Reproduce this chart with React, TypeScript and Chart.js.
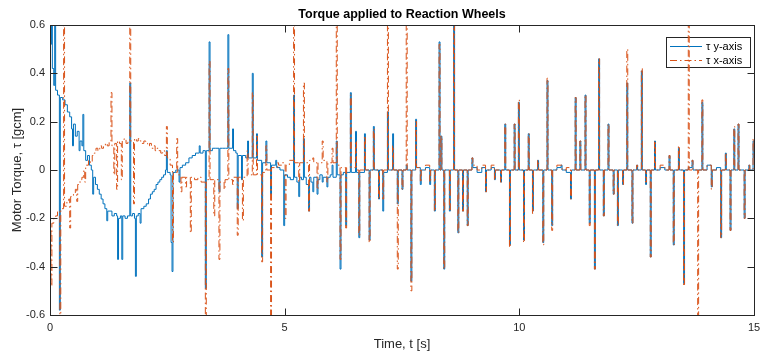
import { useEffect, useRef } from "react";
import { Chart, registerables } from "chart.js";

Chart.register(...registerables);

const chartTitle = "Torque applied to Reaction Wheels";
const xAxisTitle = "Time, t [s]";
const yAxisTitle = "Motor Torque, τ [gcm]";
const seriesLabels = ["τ y-axis", "τ x-axis"];
const timeTicks = [0, 5, 10, 15];
const torqueTicks = [-0.6, -0.4, -0.2, 0, 0.2, 0.4, 0.6];

// τ y-axis readings: [time s, torque gcm]
const tauY: [number, number][] = [
  [0.00, 0.52], [0.03, 0.70], [0.05, 0.42], [0.08, 0.35], [0.10, 0.66], [0.12, 0.33], [0.16, 0.31], [0.20, -0.58], [0.22, 0.30], [0.27, 0.29],
  [0.32, 0.27], [0.37, 0.24], [0.42, 0.22], [0.46, 0.17], [0.48, 0.10], [0.50, 0.19], [0.54, 0.14], [0.58, 0.16], [0.62, 0.08], [0.64, 0.12],
  [0.68, 0.10], [0.70, 0.23], [0.72, 0.08], [0.76, 0.04], [0.80, 0.06], [0.84, 0.02], [0.88, 0.00], [0.91, -0.10], [0.93, -0.03], [0.97, -0.06],
  [1.01, -0.08], [1.05, -0.10], [1.09, -0.12], [1.13, -0.14], [1.17, -0.16], [1.21, -0.21], [1.23, -0.17], [1.28, -0.17], [1.32, -0.19], [1.37, -0.18],
  [1.42, -0.19], [1.44, -0.37], [1.46, -0.20], [1.50, -0.19], [1.53, -0.37], [1.55, -0.19], [1.60, -0.20], [1.65, -0.19], [1.70, 0.36], [1.72, -0.19],
  [1.76, -0.18], [1.80, -0.20], [1.82, -0.44], [1.84, -0.19], [1.88, -0.18], [1.92, -0.22], [1.94, -0.16], [2.00, -0.15], [2.05, -0.14], [2.10, -0.12],
  [2.14, -0.10], [2.18, -0.09], [2.22, -0.08], [2.26, -0.06], [2.30, -0.05], [2.34, -0.04], [2.38, -0.03], [2.42, -0.02], [2.46, 0.00], [2.48, 0.08],
  [2.50, -0.01], [2.56, -0.02], [2.58, -0.30], [2.60, -0.42], [2.62, -0.01], [2.68, 0.00], [2.75, -0.05], [2.77, 0.01], [2.82, 0.02], [2.89, 0.03],
  [2.96, 0.05], [3.03, 0.06], [3.10, 0.07], [3.18, 0.10], [3.20, 0.07], [3.26, 0.08], [3.31, -0.49], [3.33, 0.08], [3.39, 0.53], [3.41, 0.08],
  [3.46, 0.09], [3.52, 0.09], [3.60, -0.09], [3.62, 0.09], [3.68, 0.09], [3.74, 0.09], [3.79, 0.56], [3.81, 0.09], [3.89, 0.17], [3.91, 0.08],
  [3.96, 0.07], [3.99, -0.16], [4.01, 0.06], [4.08, -0.04], [4.10, 0.06], [4.17, 0.05], [4.21, 0.12], [4.23, 0.05], [4.31, 0.40], [4.33, 0.05],
  [4.40, 0.15], [4.42, 0.04], [4.51, -0.36], [4.53, 0.03], [4.60, 0.12], [4.62, 0.03], [4.70, -0.10], [4.72, 0.02], [4.81, 0.04], [4.83, 0.01],
  [4.90, 0.00], [4.98, -0.23], [5.00, -0.02],
  [5.06, -0.03], [5.12, -0.04], [5.19, 0.31], [5.21, -0.03], [5.26, -0.05], [5.30, -0.11], [5.32, -0.03], [5.36, -0.04], [5.40, 0.13], [5.42, -0.03],
  [5.46, -0.06], [5.51, -0.17], [5.53, -0.03], [5.56, -0.05], [5.60, -0.09], [5.62, -0.03], [5.69, -0.10], [5.71, -0.04], [5.75, -0.02], [5.80, -0.05],
  [5.82, -0.03], [5.90, -0.07], [5.92, -0.03], [5.97, -0.02], [6.01, 0.02], [6.03, -0.03], [6.10, 0.12], [6.12, -0.02], [6.18, -0.41], [6.20, -0.02],
  [6.25, -0.01], [6.30, -0.23], [6.32, -0.01], [6.40, 0.32], [6.42, -0.01], [6.51, 0.16], [6.53, -0.01], [6.58, -0.28], [6.60, -0.01], [6.70, 0.15],
  [6.72, 0.00], [6.80, -0.29], [6.82, 0.00], [6.89, 0.18], [6.91, 0.00], [7.00, -0.12], [7.02, 0.00], [7.09, -0.17], [7.11, -0.01], [7.19, 0.24],
  [7.21, 0.00], [7.30, 0.15], [7.32, 0.00], [7.40, -0.14], [7.42, 0.00], [7.50, -0.08], [7.52, 0.00],
  [7.59, 0.02], [7.61, 0.00], [7.69, -0.46], [7.71, 0.00], [7.79, 0.21], [7.81, 0.01], [7.89, -0.06], [7.91, 0.00], [8.00, 0.01], [8.09, -0.06],
  [8.11, 0.00], [8.19, -0.17], [8.21, 0.00], [8.29, 0.53], [8.31, 0.00], [8.33, 0.14], [8.35, 0.00], [8.39, -0.41], [8.41, 0.00], [8.51, -0.17],
  [8.53, 0.00], [8.60, 0.66], [8.62, 0.00], [8.69, -0.26], [8.71, 0.00], [8.79, -0.17], [8.81, 0.00], [8.89, -0.23], [8.91, 0.00], [8.99, 0.05],
  [9.01, 0.01], [9.10, -0.01], [9.20, 0.01], [9.28, -0.09], [9.30, 0.00], [9.40, 0.01], [9.47, -0.04], [9.49, 0.00], [9.60, -0.05], [9.62, 0.00],
  [9.69, 0.19], [9.71, 0.00], [9.79, -0.31], [9.81, 0.00], [9.89, 0.19], [9.91, 0.00], [9.98, 0.28], [10.00, 0.00],
  [10.09, -0.29], [10.11, 0.00], [10.19, 0.15], [10.21, 0.00], [10.28, -0.17], [10.30, 0.00], [10.39, 0.04], [10.41, 0.00], [10.50, -0.30], [10.52, 0.00],
  [10.59, 0.37], [10.61, 0.00], [10.69, -0.23], [10.71, 0.00], [10.80, 0.01], [10.89, 0.02], [10.91, 0.00], [11.00, -0.01], [11.09, -0.12], [11.11, 0.00],
  [11.19, 0.30], [11.21, 0.00], [11.29, 0.12], [11.31, 0.00], [11.40, 0.31], [11.42, 0.00], [11.49, -0.22], [11.51, 0.00], [11.60, -0.41], [11.62, 0.00],
  [11.69, 0.46], [11.71, 0.00], [11.79, -0.19], [11.81, 0.00], [11.89, 0.19], [11.91, 0.00], [12.00, -0.10], [12.02, 0.00], [12.09, -0.23], [12.11, 0.00],
  [12.20, -0.06], [12.22, 0.00], [12.29, 0.36], [12.31, 0.00], [12.40, -0.22], [12.42, 0.00], [12.50, 0.02], [12.52, 0.00],
  [12.60, 0.41], [12.62, 0.00], [12.69, -0.06], [12.71, 0.00], [12.79, -0.36], [12.81, 0.00], [12.88, 0.12], [12.90, 0.00], [13.00, 0.01], [13.10, 0.00],
  [13.19, 0.06], [13.21, 0.00], [13.28, -0.31], [13.30, 0.00], [13.39, 0.09], [13.41, 0.00], [13.50, -0.47], [13.52, 0.00], [13.60, 0.01], [13.68, 0.04],
  [13.70, 0.00], [13.80, 0.00], [13.89, 0.28], [13.91, 0.00], [14.00, 0.02], [14.09, -0.07], [14.11, 0.00], [14.20, 0.01], [14.29, -0.28], [14.31, 0.00],
  [14.39, 0.07], [14.41, 0.00], [14.49, -0.25], [14.51, 0.00], [14.57, 0.17], [14.59, 0.00], [14.66, 0.19], [14.68, 0.00], [14.79, -0.20], [14.81, 0.00],
  [14.89, 0.02], [14.91, 0.00], [14.98, 0.12], [15.00, 0.05],
];

// τ x-axis readings: [time s, torque gcm]
const tauX: [number, number][] = [
  [0.00, -0.25], [0.02, -0.48], [0.04, -0.22], [0.08, -0.20], [0.12, -0.19], [0.16, -0.17], [0.21, -0.62], [0.23, -0.16], [0.29, 0.66], [0.31, -0.15],
  [0.36, -0.13], [0.40, -0.12], [0.42, -0.24], [0.44, -0.11], [0.50, -0.10], [0.54, -0.08], [0.57, -0.13], [0.59, -0.06], [0.64, -0.04], [0.68, -0.03],
  [0.72, 0.00], [0.74, -0.05], [0.76, 0.02], [0.82, 0.04], [0.86, 0.03], [0.90, 0.06], [0.94, 0.07], [0.98, 0.09], [1.02, 0.08], [1.06, 0.10],
  [1.10, 0.09], [1.14, 0.10], [1.18, 0.11], [1.22, 0.10], [1.26, 0.12], [1.30, 0.32], [1.32, 0.10], [1.36, -0.02], [1.38, 0.11], [1.42, -0.08],
  [1.44, 0.12], [1.48, 0.11], [1.52, -0.04], [1.54, 0.12], [1.58, 0.13], [1.62, 0.11], [1.66, 0.12], [1.70, 0.66], [1.72, 0.12], [1.78, -0.14],
  [1.80, 0.13], [1.84, 0.12], [1.88, 0.13], [1.92, 0.12], [1.96, 0.11], [2.00, 0.12], [2.04, 0.11], [2.08, 0.10], [2.12, 0.11], [2.16, 0.09],
  [2.20, 0.10], [2.24, 0.08], [2.28, 0.09], [2.32, 0.08], [2.36, 0.07], [2.40, 0.08], [2.44, 0.06], [2.48, 0.18], [2.50, 0.05],
  [2.56, 0.02], [2.61, -0.30], [2.63, -0.01], [2.70, 0.13], [2.72, -0.02], [2.79, -0.09], [2.81, -0.03], [2.89, -0.07], [2.91, -0.03], [2.99, -0.26],
  [3.01, -0.03], [3.08, -0.04], [3.15, -0.03], [3.22, -0.05], [3.31, -0.65], [3.33, -0.04], [3.39, 0.45], [3.41, -0.04], [3.49, -0.19], [3.51, -0.04],
  [3.60, -0.37], [3.62, -0.05], [3.71, -0.08], [3.73, -0.04], [3.79, 0.42], [3.81, -0.04], [3.89, -0.06], [3.91, -0.03], [3.99, -0.27], [4.01, -0.03],
  [4.10, -0.21], [4.12, -0.03], [4.20, 0.08], [4.22, -0.02], [4.31, 0.32], [4.33, -0.02], [4.40, 0.14], [4.42, -0.02], [4.51, -0.38], [4.53, -0.01],
  [4.60, 0.10], [4.62, 0.00], [4.70, -0.65], [4.72, 0.01], [4.85, 0.03], [4.87, 0.02], [4.94, 0.03], [5.01, -0.20], [5.03, 0.02],
  [5.10, 0.04], [5.19, 0.66], [5.21, 0.03], [5.30, -0.05], [5.32, 0.03], [5.40, 0.36], [5.42, 0.03], [5.51, -0.17], [5.53, 0.04], [5.60, 0.05],
  [5.62, 0.03], [5.69, -0.08], [5.71, 0.03], [5.80, 0.12], [5.82, 0.04], [5.90, -0.05], [5.92, 0.03], [6.01, 0.09], [6.03, 0.03], [6.10, 0.66],
  [6.12, 0.02], [6.18, -0.37], [6.20, 0.01], [6.30, -0.24], [6.32, 0.01], [6.40, 0.31], [6.42, 0.01], [6.51, 0.12], [6.53, 0.00], [6.58, -0.27],
  [6.60, 0.00], [6.70, 0.14], [6.72, 0.00], [6.80, -0.30], [6.82, 0.00], [6.89, 0.17], [6.91, 0.00], [7.00, -0.12], [7.02, 0.00], [7.09, -0.12],
  [7.11, 0.00], [7.19, 0.66], [7.21, 0.00], [7.30, 0.10], [7.32, 0.00], [7.40, -0.41], [7.42, 0.00], [7.50, -0.08], [7.52, 0.00],
  [7.59, 0.66], [7.61, 0.00], [7.69, -0.50], [7.71, 0.00], [7.79, 0.20], [7.81, 0.01], [7.89, -0.05], [7.91, 0.00], [8.00, 0.02], [8.09, -0.05],
  [8.11, 0.00], [8.19, -0.17], [8.21, 0.00], [8.29, 0.52], [8.31, 0.00], [8.33, 0.14], [8.35, 0.00], [8.39, -0.41], [8.41, 0.00], [8.51, -0.17],
  [8.53, 0.00], [8.60, 0.66], [8.62, 0.00], [8.69, -0.26], [8.71, 0.00], [8.79, -0.17], [8.81, 0.00], [8.89, -0.23], [8.91, 0.00], [8.99, 0.05],
  [9.01, 0.02], [9.10, 0.00], [9.20, 0.02], [9.28, -0.09], [9.30, 0.00], [9.40, 0.02], [9.47, -0.04], [9.49, 0.00], [9.60, -0.05], [9.62, 0.00],
  [9.69, 0.19], [9.71, 0.00], [9.79, -0.32], [9.81, 0.00], [9.89, 0.19], [9.91, 0.00], [9.98, 0.29], [10.00, 0.00],
  [10.09, -0.30], [10.11, 0.00], [10.19, 0.15], [10.21, 0.00], [10.28, -0.18], [10.30, 0.00], [10.39, 0.04], [10.41, 0.00], [10.50, -0.31], [10.52, 0.00],
  [10.59, 0.38], [10.61, 0.00], [10.69, -0.25], [10.71, 0.00], [10.80, 0.02], [10.89, 0.02], [10.91, 0.00], [11.00, 0.01], [11.09, -0.12], [11.11, 0.00],
  [11.19, 0.30], [11.21, 0.00], [11.29, 0.12], [11.31, 0.00], [11.40, 0.31], [11.42, 0.00], [11.49, -0.23], [11.51, 0.00], [11.60, -0.41], [11.62, 0.00],
  [11.69, 0.46], [11.71, 0.00], [11.79, -0.19], [11.81, 0.00], [11.89, 0.19], [11.91, 0.00], [12.00, -0.10], [12.02, 0.00], [12.09, -0.23], [12.11, 0.00],
  [12.20, -0.06], [12.22, 0.00], [12.29, 0.50], [12.31, 0.00], [12.40, -0.22], [12.42, 0.00], [12.50, 0.02], [12.52, 0.00],
  [12.60, 0.42], [12.62, 0.00], [12.69, -0.05], [12.71, 0.00], [12.79, -0.36], [12.81, 0.00], [12.88, 0.12], [12.90, 0.00], [13.00, 0.02], [13.10, 0.00],
  [13.19, 0.06], [13.21, 0.00], [13.28, -0.31], [13.30, 0.00], [13.39, 0.10], [13.41, 0.00], [13.50, -0.48], [13.52, 0.00], [13.60, 0.66], [13.62, 0.00],
  [13.68, 0.04], [13.70, 0.00], [13.80, -0.66], [13.82, 0.00], [13.89, 0.29], [13.91, 0.00], [14.00, 0.02], [14.09, -0.08], [14.11, 0.00], [14.29, -0.28],
  [14.31, 0.00], [14.39, 0.07], [14.41, 0.00], [14.49, -0.25], [14.51, 0.00], [14.57, 0.18], [14.59, 0.00], [14.66, 0.19], [14.68, 0.00], [14.79, -0.20],
  [14.81, 0.00], [14.89, 0.02], [14.91, 0.00], [14.98, 0.13], [15.00, 0.05],
];

const BLUE = "#0072BD";
const ORANGE = "#D95319";
const AXIS = "#262626";
const FONT = "'Liberation Sans', Arial, Helvetica, sans-serif";
const DASH = [7, 3, 1.5, 3];

const decorPlugin = {
  id: "decor",
  beforeDatasetsDraw(chart: any) {
    const { ctx } = chart;
    ctx.save();
    ctx.fillStyle = "#ffffff";
    ctx.fillRect(666, 37, 85, 30);
    ctx.strokeStyle = AXIS;
    ctx.lineWidth = 1;
    ctx.strokeRect(666.5, 37.5, 84, 30);
    ctx.strokeStyle = BLUE;
    ctx.setLineDash([]);
    ctx.beginPath();
    ctx.moveTo(670, 46.5);
    ctx.lineTo(702, 46.5);
    ctx.stroke();
    ctx.strokeStyle = ORANGE;
    ctx.setLineDash(DASH);
    ctx.beginPath();
    ctx.moveTo(670, 60.5);
    ctx.lineTo(702, 60.5);
    ctx.stroke();
    ctx.setLineDash([]);
    ctx.fillStyle = "#000000";
    ctx.font = `11px ${FONT}`;
    ctx.textAlign = "left";
    ctx.textBaseline = "middle";
    ctx.fillText(seriesLabels[0], 706, 46.5);
    ctx.fillText(seriesLabels[1], 706, 60.5);
    ctx.restore();
  },
  afterDraw(chart: any) {
    const { ctx, chartArea: a, scales } = chart;
    const xs = scales.x;
    const ys = scales.y;
    ctx.save();
    ctx.strokeStyle = AXIS;
    ctx.lineWidth = 1;
    ctx.setLineDash([]);
    const L = Math.round(a.left) + 0.5;
    const R = Math.round(a.right) + 0.5;
    const T = Math.round(a.top) + 0.5;
    const B = Math.round(a.bottom) + 0.5;
    ctx.strokeRect(L, T, R - L, B - T);
    const len = 7;
    ctx.beginPath();
    for (const v of timeTicks) {
      const px = Math.round(xs.getPixelForValue(v)) + 0.5;
      ctx.moveTo(px, B);
      ctx.lineTo(px, B - len);
      ctx.moveTo(px, T);
      ctx.lineTo(px, T + len);
    }
    for (const v of torqueTicks) {
      const py = Math.round(ys.getPixelForValue(v)) + 0.5;
      ctx.moveTo(L, py);
      ctx.lineTo(L + len, py);
      ctx.moveTo(R, py);
      ctx.lineTo(R - len, py);
    }
    ctx.stroke();

    ctx.fillStyle = "#000000";
    ctx.textAlign = "center";
    ctx.textBaseline = "middle";
    ctx.font = `bold 12.5px ${FONT}`;
    ctx.fillText(chartTitle, (a.left + a.right) / 2, 15);
    ctx.fillStyle = AXIS;
    ctx.font = `13px ${FONT}`;
    ctx.fillText(xAxisTitle, (a.left + a.right) / 2, 344);
    ctx.translate(17, (a.top + a.bottom) / 2);
    ctx.rotate(-Math.PI / 2);
    ctx.fillText(yAxisTitle, 0, 0);
    ctx.restore();
  },
};

export default function App() {
  const ref = useRef<HTMLCanvasElement | null>(null);

  useEffect(() => {
    if (!ref.current) return;
    const chart = new Chart(ref.current, {
      type: "line",
      data: {
        datasets: [
          {
            label: seriesLabels[0],
            data: tauY.map(([x, y]) => ({ x, y })),
            borderColor: BLUE,
            borderWidth: 1,
            pointRadius: 0,
            stepped: true,
            fill: false,
            clip: 0,
            order: 1,
          },
          {
            label: seriesLabels[1],
            data: tauX.map(([x, y]) => ({ x, y })),
            borderColor: ORANGE,
            borderWidth: 1,
            borderDash: DASH,
            pointRadius: 0,
            stepped: true,
            fill: false,
            clip: 0,
            order: 0,
          },
        ],
      },
      options: {
        animation: false,
        responsive: false,
        events: [],
        layout: { padding: { top: 25, right: 6, bottom: 0, left: 0 } },
        plugins: {
          legend: { display: false },
          title: { display: false },
          tooltip: { enabled: false },
        },
        scales: {
          x: {
            type: "linear",
            min: 0,
            max: 15,
            grid: { display: false, drawTicks: false },
            border: { display: false },
            afterBuildTicks: (s: any) => {
              s.ticks = timeTicks.map((value) => ({ value }));
            },
            afterFit: (s: any) => {
              s.height = 41;
              s.paddingLeft = 0;
              s.paddingRight = 0;
            },
            ticks: {
              autoSkip: false,
              maxRotation: 0,
              padding: 6,
              color: AXIS,
              font: { family: FONT, size: 11 },
              callback: (v: any) => String(v),
            },
          },
          y: {
            type: "linear",
            min: -0.6,
            max: 0.6,
            grid: { display: false, drawTicks: false },
            border: { display: false },
            afterBuildTicks: (s: any) => {
              s.ticks = torqueTicks.map((value) => ({ value }));
            },
            afterFit: (s: any) => {
              s.width = 50;
              s.paddingTop = 0;
              s.paddingBottom = 0;
            },
            ticks: {
              autoSkip: false,
              padding: 5,
              color: AXIS,
              font: { family: FONT, size: 11 },
              callback: (v: any) => (Math.abs(Number(v)) < 1e-9 ? "0" : Number(v).toFixed(1)),
            },
          },
        },
      },
      plugins: [decorPlugin],
    });
    return () => chart.destroy();
  }, []);

  return (
    <div style={{ position: "fixed", left: 0, top: 0, width: 760, height: 356, background: "#ffffff" }}>
      <canvas ref={ref} width={760} height={356} style={{ display: "block", width: 760, height: 356 }} />
    </div>
  );
}
